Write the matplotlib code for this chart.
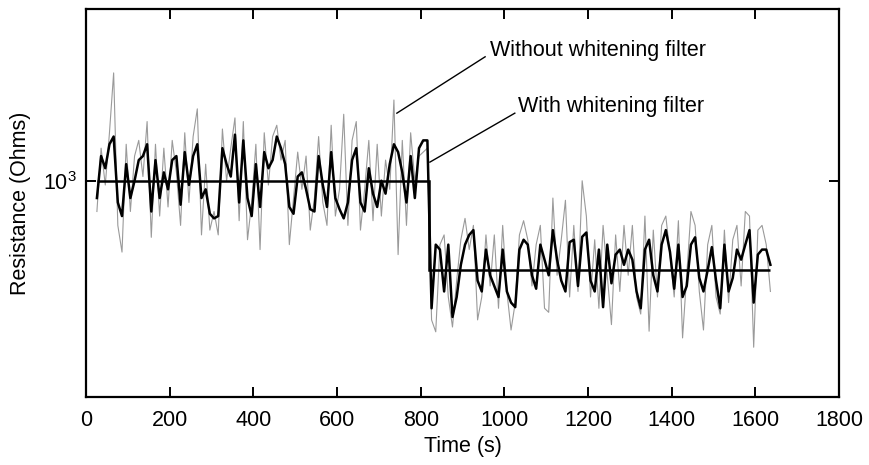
import numpy as np
import matplotlib
matplotlib.use('Agg')
import matplotlib.pyplot as plt
from matplotlib.ticker import NullLocator

plt.rcParams['font.family'] = ['Liberation Sans', 'DejaVu Sans']

# sample times (s), one reading every 10 s
time = np.arange(26, 1646, 10)

# resistance with whitening filter (Ohms)
with_filter = [
    960, 1060, 1030, 1090, 1110, 950, 920, 1040, 960, 1000,
    1050, 1060, 1090, 930, 1050, 960, 1020, 980, 1050, 1060,
    945, 1070, 990, 1060, 1090, 960, 980, 925, 915, 920,
    1080, 1040, 1010, 1115, 950, 1100, 960, 920, 1040, 940,
    1070, 1030, 1050, 1110, 1080, 1040, 940, 925, 1010, 1020,
    980, 935, 930, 1060, 990, 940, 1070, 960, 935, 915,
    950, 1050, 1080, 950, 930, 1030, 970, 940, 1000, 970,
    1040, 1090, 1070, 1020, 950, 1060, 960, 1080, 1100, 1100,
    740, 860, 850, 770, 860, 725, 760, 820, 860, 880,
    890, 790, 770, 850, 800, 780, 760, 850, 770, 750,
    742, 850, 870, 860, 800, 775, 860, 830, 800, 890,
    830, 790, 770, 865, 870, 780, 876, 885, 790, 770,
    850, 742, 860, 785, 840, 850, 820, 850, 830, 770,
    740, 850, 870, 800, 770, 860, 890, 845, 775, 860,
    760, 780, 860, 875, 795, 770, 810, 855, 790, 740,
    860, 770, 795, 850, 830, 860, 890, 750, 840, 850,
    850, 820,
]

# resistance without whitening filter (Ohms)
without_filter = [
    930, 1080, 990, 1120, 1290, 900, 845, 1090, 930, 1060,
    1100, 1010, 1150, 875, 1090, 920, 1080, 940, 1100, 1020,
    900, 1120, 950, 1110, 1185, 880, 1040, 890, 930, 880,
    1130, 1000, 1080, 1160, 910, 1150, 870, 950, 1090, 850,
    1120, 990, 1110, 1140, 1050, 1100, 860, 960, 1070, 980,
    1060, 890, 960, 1110, 950, 900, 1140, 920, 980, 1170,
    900, 1100, 1150, 890, 980, 1100, 910, 1090, 920, 1050,
    980, 1210, 840, 1100, 900, 1120, 1000, 1060, 1070, 1080,
    720, 700, 860, 880, 760, 708, 790, 870, 915, 850,
    900, 720, 760, 880, 780, 880, 740, 900, 770, 703,
    750, 880, 910, 870, 780, 860, 900, 740, 733, 960,
    800, 870, 955, 760, 900, 770, 1000, 920, 760, 870,
    740, 900, 800, 712, 880, 770, 900, 800, 900, 760,
    730, 920, 701, 890, 760, 900, 920, 840, 760, 910,
    690, 800, 930, 900, 770, 703, 860, 900, 760, 730,
    890, 750, 870, 900, 780, 930, 920, 675, 890, 900,
    860, 770,
]

# estimated mean level before / after the change
level_edges = [26, 820, 1636]
level_values = [1000, 810]

fig = plt.figure(figsize=(8.69, 4.65), dpi=100)
ax = fig.add_axes([0.099, 0.146, 0.8665, 0.8346])

ax.plot(time, without_filter, color='#9a9a9a', lw=0.8, zorder=1)
ax.plot(time, with_filter, color='black', lw=1.8, zorder=2)
ax.stairs(level_values, level_edges, baseline=None, color='black', lw=1.8, zorder=3)

ax.set_yscale('log')
ax.set_xlim(0, 1800)
ax.set_ylim(600, 1500)
ax.set_xticks(range(0, 1801, 200))
ax.set_yticks([1000])
ax.yaxis.set_minor_locator(NullLocator())
ax.tick_params(direction='in', length=7, width=1.4, top=True, right=True, labelsize=15.5)
ax.tick_params(axis='x', pad=9)
ax.tick_params(axis='y', pad=7)
for s in ax.spines.values():
    s.set_linewidth(1.6)

ax.set_xlabel('Time (s)', fontsize=15.5, labelpad=4)
ax.set_ylabel('Resistance (Ohms)', fontsize=15.5, labelpad=8)

# callouts
ax.plot([743, 954], [1173, 1340], color='black', lw=1.0)
ax.text(965, 1360, 'Without whitening filter', fontsize=15.5, va='center', ha='left')
ax.plot([822, 1025], [1045, 1173], color='black', lw=1.0)
ax.text(1032, 1192, 'With whitening filter', fontsize=15.5, va='center', ha='left')

fig.savefig('out.png', dpi=100)
